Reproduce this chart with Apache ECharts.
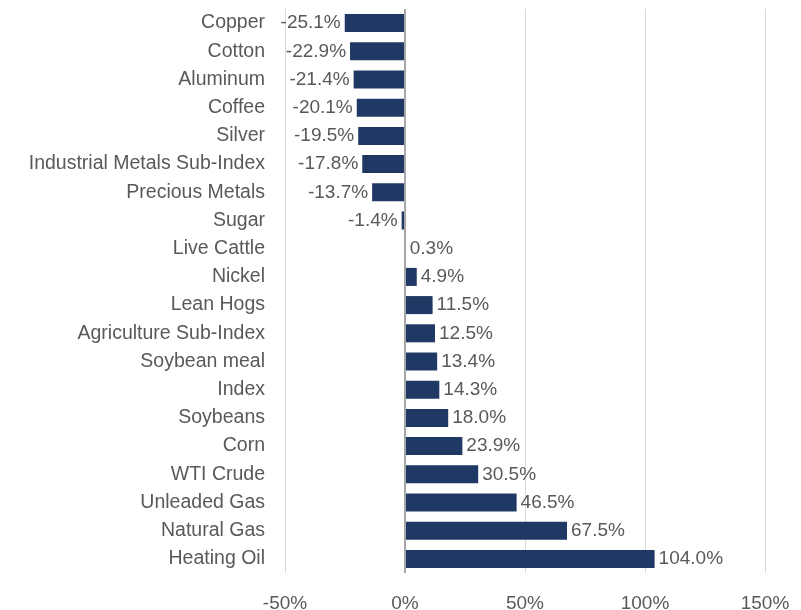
<!DOCTYPE html>
<html>
<head>
<meta charset="utf-8">
<script src="https://cdn.jsdelivr.net/npm/echarts@6/dist/echarts.min.js"></script>
<style>
  html, body { margin: 0; padding: 0; background: #fff; }
  #chart { width: 801px; height: 610px; }
</style>
</head>
<body>
<div id="chart"></div>
<script>
// categories top to bottom
const categories = [
  'Copper', 'Cotton', 'Aluminum', 'Coffee', 'Silver', 'Industrial Metals Sub-Index',
  'Precious Metals', 'Sugar', 'Live Cattle', 'Nickel', 'Lean Hogs', 'Agriculture Sub-Index',
  'Soybean meal', 'Index', 'Soybeans', 'Corn', 'WTI Crude', 'Unleaded Gas', 'Natural Gas', 'Heating Oil'
]
const changes = [
  -25.1, -22.9, -21.4, -20.1, -19.5, -17.8, -13.7, -1.4, 0.3, 4.9,
  11.5, 12.5, 13.4, 14.3, 18.0, 23.9, 30.5, 46.5, 67.5, 104.0
]
const xTicks = [-50, 0, 50, 100, 150]

const FONT = 'Liberation Sans'
const TEXT = '#595959'

const chart = echarts.init(document.getElementById('chart'))

const barData = changes.map(v => ({
  value: v,
  label: { position: v < 0 ? 'left' : 'right' }
}))

chart.setOption({
  animation: false,
  grid: { left: 285, right: 36, top: 9, bottom: 37, outerBoundsMode: 'none' },
  xAxis: {
    type: 'value',
    min: xTicks[0], max: xTicks[xTicks.length - 1], interval: 50,
    axisLine: { show: false },
    axisTick: { show: false },
    axisLabel: { color: TEXT, fontFamily: FONT, fontSize: 19, margin: 21, formatter: v => v + '%' },
    splitLine: { lineStyle: { color: '#d9d9d9', width: 1 } }
  },
  yAxis: {
    type: 'category',
    data: categories,
    inverse: true,
    axisLine: { show: false },
    axisTick: { show: false },
    axisLabel: { color: TEXT, fontFamily: FONT, fontSize: 19.5, margin: 20 }
  },
  series: [{
    type: 'bar',
    data: barData,
    barCategoryGap: '36%',
    itemStyle: { color: '#203864' },
    label: {
      show: true, distance: 4,
      color: TEXT, fontFamily: FONT, fontSize: 19,
      formatter: p => p.value.toFixed(1) + '%'
    },
    markLine: {
      silent: true, symbol: ['none', 'none'], label: { show: false },
      lineStyle: { color: '#a6a6a6', type: 'solid', width: 2 },
      data: [{ xAxis: 0 }]
    }
  }]
})
</script>
</body>
</html>
